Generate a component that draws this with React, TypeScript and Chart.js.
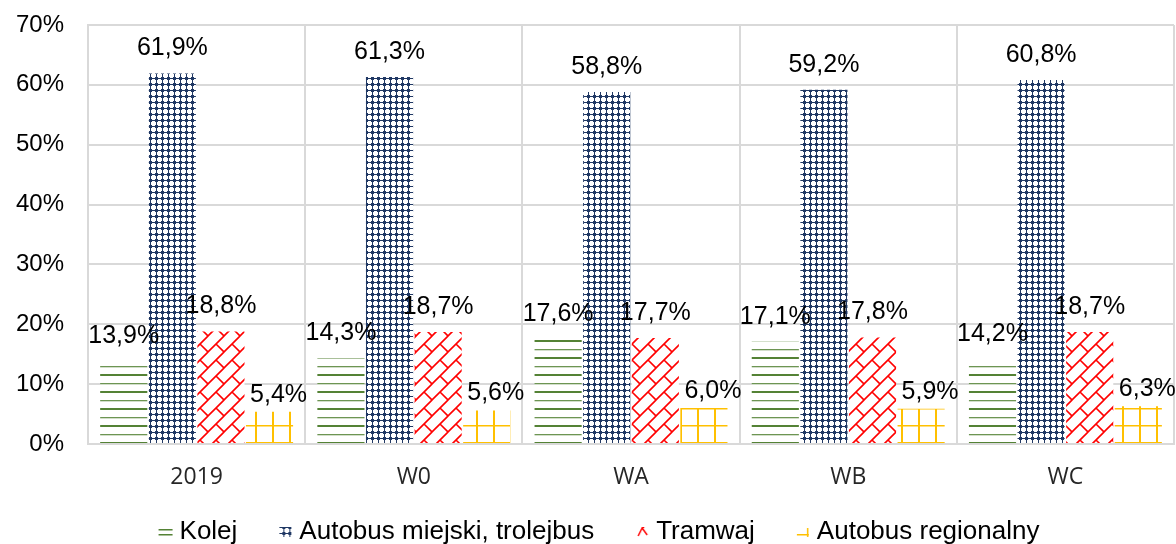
import React, { useEffect, useRef } from 'react';
import { Chart, registerables } from 'chart.js';

Chart.register(...registerables);

const categories = ['2019', 'W0', 'WA', 'WB', 'WC'];
const seriesNames = ['Kolej', 'Autobus miejski, trolejbus', 'Tramwaj', 'Autobus regionalny'];
const kolej = [13.9, 14.3, 17.6, 17.1, 14.2];
const autobusMiejski = [61.9, 61.3, 58.8, 59.2, 60.8];
const tramwaj = [18.8, 18.7, 17.7, 17.8, 18.7];
const autobusRegionalny = [5.4, 5.6, 6.0, 5.9, 6.3];
const yMin = 0;
const yMax = 70;
const yStep = 10;

const ARIAL = '"Liberation Sans", Arial, sans-serif';

function makeTile(w: number, h: number, draw: (c: CanvasRenderingContext2D) => void, bg = '#ffffff') {
  const c = document.createElement('canvas');
  c.width = w;
  c.height = h;
  const g = c.getContext('2d') as CanvasRenderingContext2D;
  if (bg) {
    g.fillStyle = bg;
    g.fillRect(0, 0, w, h);
  }
  draw(g);
  return c;
}

function autobusTile() {
  return makeTile(6, 6, (g) => {
    g.fillStyle = '#203864';
    g.fillRect(0, 0, 6, 6);
    g.fillStyle = '#ffffff';
    g.fillRect(2, 1, 3, 5);
    g.fillRect(1, 2, 5, 3);
  });
}

function buildPatterns(ctx: CanvasRenderingContext2D) {
  const kolejTile = makeTile(4, 17, (g) => {
    g.fillStyle = '#548235';
    g.fillRect(0, 0, 4, 2);
    g.fillStyle = 'rgba(84,130,53,0.85)';
    g.fillRect(0, 9, 4, 1.3);
  });
  const tramTile = makeTile(16, 16, (g) => {
    g.strokeStyle = '#ff0000';
    g.lineWidth = 1.6;
    g.beginPath();
    g.moveTo(0, 16);
    g.lineTo(16, 0);
    g.moveTo(-2, 2);
    g.lineTo(2, -2);
    g.moveTo(14, 18);
    g.lineTo(18, 14);
    g.moveTo(8, 8);
    g.lineTo(16, 16);
    g.stroke();
  });
  const regTile = makeTile(17, 17, (g) => {
    g.fillStyle = '#ffc000';
    g.fillRect(0, 0, 2, 17);
    g.fillRect(0, 0, 17, 1.5);
  });
  return [kolejTile, autobusTile(), tramTile, regTile].map((t) => ctx.createPattern(t, 'repeat'));
}

// legend swatch images: transparent canvas, swatch drawn at its right end
const SW_IMG_W = 34;
const SW_IMG_H = 10;
function buildSwatches() {
  const x0 = SW_IMG_W - 15;
  const kol = makeTile(SW_IMG_W, SW_IMG_H, (g) => {
    g.fillStyle = '#548235';
    g.fillRect(x0, 2, 14, 1.5);
    g.fillRect(x0, 7, 14, 1.5);
  }, '');
  const aut = makeTile(SW_IMG_W, SW_IMG_H, (g) => {
    const p = g.createPattern(autobusTile(), 'repeat') as CanvasPattern;
    g.fillStyle = p;
    g.fillRect(x0 + 1, 0, 12, 10);
  }, '');
  const tram = makeTile(SW_IMG_W, SW_IMG_H, (g) => {
    g.strokeStyle = '#ff0000';
    g.lineWidth = 1.5;
    g.beginPath();
    g.moveTo(x0 + 3, 9);
    g.lineTo(x0 + 7, 1);
    g.lineTo(x0 + 12, 8);
    g.moveTo(x0 + 7, 1);
    g.lineTo(x0 + 9, 0);
    g.stroke();
  }, '');
  const reg = makeTile(SW_IMG_W, SW_IMG_H, (g) => {
    g.fillStyle = '#ffc000';
    g.fillRect(x0 + 1, 7, 12, 1.5);
    g.fillRect(x0 + 11, 1, 1.5, 9);
  }, '');
  return [kol, aut, tram, reg];
}

const valueLabels = {
  id: 'valueLabels',
  afterDatasetsDraw(chart: any) {
    const ctx = chart.ctx as CanvasRenderingContext2D;
    ctx.save();
    ctx.font = `25px ${ARIAL}`;
    ctx.fillStyle = '#000000';
    ctx.textAlign = 'center';
    ctx.textBaseline = 'middle';
    chart.data.datasets.forEach((ds: any, di: number) => {
      const meta = chart.getDatasetMeta(di);
      const dx = di === 3 ? 9 : 0;
      const dy = di === 3 ? 17 : 25;
      meta.data.forEach((el: any, i: number) => {
        const v = ds.data[i] as number;
        ctx.fillText(v.toFixed(1).replace('.', ',') + '%', el.x + dx, el.y - dy);
      });
    });
    ctx.restore();
  },
};

const legendShift = {
  id: 'legendShift',
  afterLayout(chart: any) {
    if (chart.legend) {
      chart.legend.left += 10;
      chart.legend.right += 10;
    }
  },
};

export default function App() {
  const ref = useRef<HTMLCanvasElement | null>(null);

  useEffect(() => {
    const canvas = ref.current;
    if (!canvas) return;
    const ctx = canvas.getContext('2d') as CanvasRenderingContext2D;
    const patterns = buildPatterns(ctx);
    const swatches = buildSwatches();
    const values = [kolej, autobusMiejski, tramwaj, autobusRegionalny];
    const chart = new Chart(canvas, {
      type: 'bar',
      data: {
        labels: categories,
        datasets: seriesNames.map((name, i) => ({
          label: name,
          data: values[i],
          backgroundColor: patterns[i] as any,
          borderWidth: 0,
          categoryPercentage: 0.895,
          barPercentage: 0.97,
        })),
      },
      options: {
        responsive: false,
        animation: false,
        layout: { padding: { top: 25, left: -8, right: 2, bottom: -11 } },
        plugins: {
          tooltip: { enabled: false },
          legend: {
            position: 'bottom',
            labels: {
              font: { family: ARIAL, size: 26 },
              color: '#000000',
              usePointStyle: true,
              pointStyleWidth: 20,
              boxHeight: 10,
              padding: 29,
              generateLabels: (ch: any) =>
                ch.data.datasets.map((ds: any, i: number) => ({
                  text: ds.label,
                  fillStyle: 'rgba(0,0,0,0)',
                  strokeStyle: 'rgba(0,0,0,0)',
                  lineWidth: 0,
                  pointStyle: swatches[i],
                  hidden: false,
                  datasetIndex: i,
                  fontColor: '#000000',
                })),
            },
          },
        },
        scales: {
          x: {
            grid: { color: '#d9d9d9', lineWidth: 2, drawTicks: false, offset: true },
            border: { color: '#d9d9d9', width: 2 },
            ticks: {
              font: { family: '"Open Sans", sans-serif', size: 23 },
              color: '#262626',
              padding: 20,
            },
            afterFit: (scale: any) => {
              scale.height = 46;
            },
          },
          y: {
            min: yMin,
            max: yMax,
            grid: { color: '#d9d9d9', lineWidth: 2, drawTicks: false },
            border: { color: '#d9d9d9', width: 2 },
            ticks: {
              stepSize: yStep,
              font: { family: ARIAL, size: 24 },
              color: '#000000',
              padding: 24,
              callback: (v: any) => `${v}%`,
            },
            afterFit: (scale: any) => {
              scale.paddingTop = 14;
              scale.paddingBottom = 14;
            },
          },
        },
      },
      plugins: [valueLabels, legendShift],
    });
    return () => chart.destroy();
  }, []);

  return (
    <div style={{ position: 'absolute', left: 0, top: 0, width: 1176, height: 544, background: '#fff' }}>
      <canvas ref={ref} width={1176} height={544} style={{ display: 'block' }} />
    </div>
  );
}
